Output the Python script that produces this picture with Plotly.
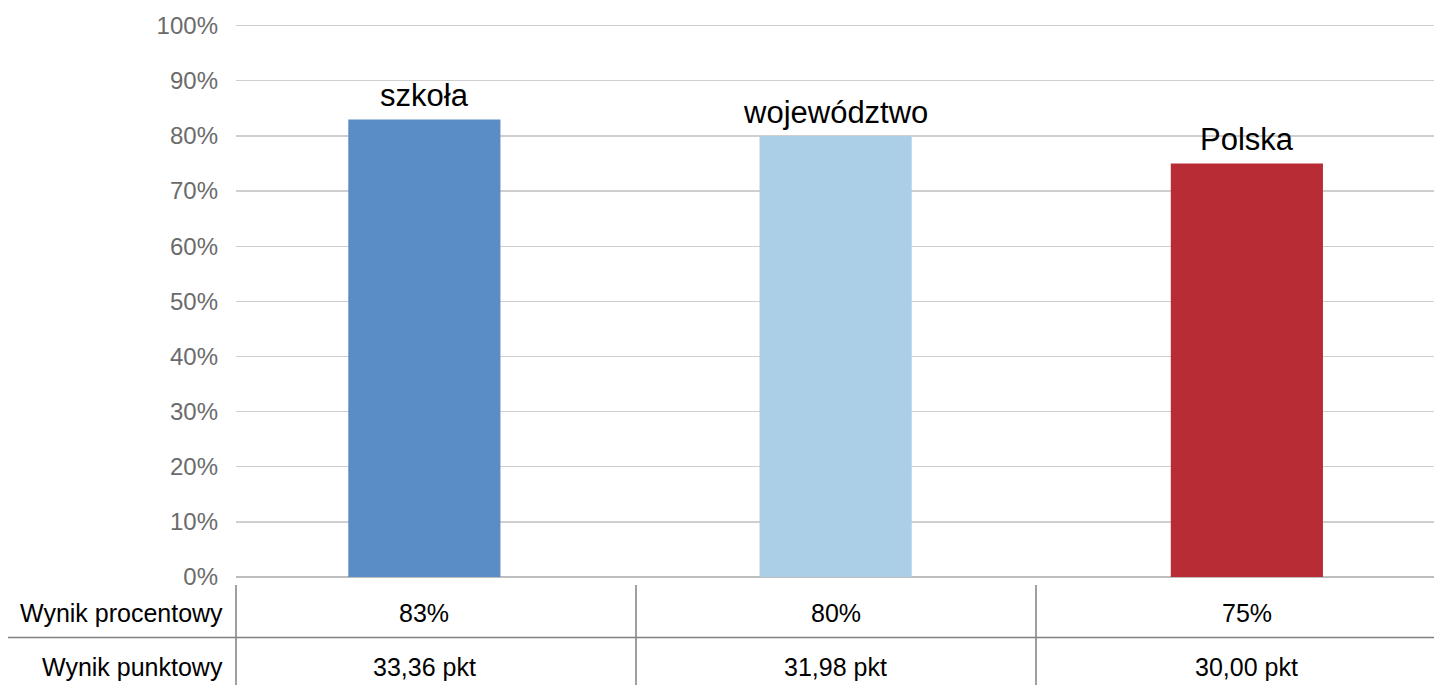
import plotly.graph_objects as go

categories = ["szkoła", "województwo", "Polska"]
percent_values = [0.83, 0.80, 0.75]
point_values = [33.36, 31.98, 30.00]
bar_colors = ["#5A8DC6", "#ABCFE6", "#B82C35"]
row_labels = ["Wynik procentowy", "Wynik punktowy"]
y_ticks = [i / 10 for i in range(11)]

FONT = "Liberation Sans, Arial, sans-serif"
W, H = 1434, 685
ML, MR, MT, MB = 236, 0, 24, 108
PH = H - MT - MB
PW = W - ML - MR
Y_TOP = 1.003


def py(px):
    # pixel y -> paper y
    return (H - MB - px) / PH


def px_(x):
    return (x - ML) / PW


fig = go.Figure()
fig.add_trace(go.Bar(
    x=list(range(len(categories))),
    y=percent_values,
    marker=dict(color=bar_colors, line=dict(width=0)),
    width=0.37,
    hoverinfo="skip",
))

# bar labels (category names above bars)
for i, (c, v) in enumerate(zip(categories, percent_values)):
    fig.add_annotation(x=i, y=v, xref="x", yref="y", text=c, showarrow=False,
                       yanchor="bottom", yshift=4,
                       font=dict(family=FONT, size=31, color="#000000"))

# data table rows
row_y = [py(613), py(667)]
for label, yy in zip(row_labels, row_y):
    fig.add_annotation(x=0, y=yy, xref="paper", yref="paper", text=label,
                       showarrow=False, xanchor="right", yanchor="middle", xshift=-11,
                       font=dict(family=FONT, size=25, color="#000000"))

for i, (p, pts) in enumerate(zip(percent_values, point_values)):
    fig.add_annotation(x=i, y=row_y[0], xref="x", yref="paper",
                       text=f"{round(p * 100)}%", showarrow=False, yanchor="middle",
                       font=dict(family=FONT, size=25, color="#000000"))
    fig.add_annotation(x=i, y=row_y[1], xref="x", yref="paper",
                       text=f"{pts:.2f}".replace(".", ",") + " pkt", showarrow=False,
                       yanchor="middle",
                       font=dict(family=FONT, size=25, color="#000000"))

# table lines
line_style = dict(color="#808080", width=1.5)
for xpx in [236, 636, 1036]:
    fig.add_shape(type="line", xref="paper", yref="paper",
                  x0=px_(xpx), x1=px_(xpx), y0=py(585), y1=py(686), line=line_style)
fig.add_shape(type="line", xref="paper", yref="paper",
              x0=px_(8), x1=1.0, y0=py(637.5), y1=py(637.5), line=line_style)

fig.update_layout(
    width=W, height=H,
    margin=dict(l=ML, r=MR, t=MT, b=MB),
    paper_bgcolor="white", plot_bgcolor="white",
    showlegend=False,
    xaxis=dict(range=[-0.458, 2.455], showticklabels=False, showgrid=False,
               zeroline=False, showline=False, fixedrange=True),
    yaxis=dict(range=[0, Y_TOP], tickvals=y_ticks, tickformat=".0%",
               showgrid=True, gridcolor="#CFCFCF", gridwidth=1.3,
               zeroline=True, zerolinecolor="#BDBDBD", zerolinewidth=2,
               showline=False, ticks="", ticklabelstandoff=17,
               tickfont=dict(family=FONT, size=24, color="#6B6B6B"),
               fixedrange=True),
)

fig.write_html(
    "out.html",
    config={"displayModeBar": False, "staticPlot": True},
    post_script=("document.documentElement.style.overflow='hidden';"
                 "document.body.style.margin='0px';"
                 "document.body.style.overflow='hidden';"),
)
